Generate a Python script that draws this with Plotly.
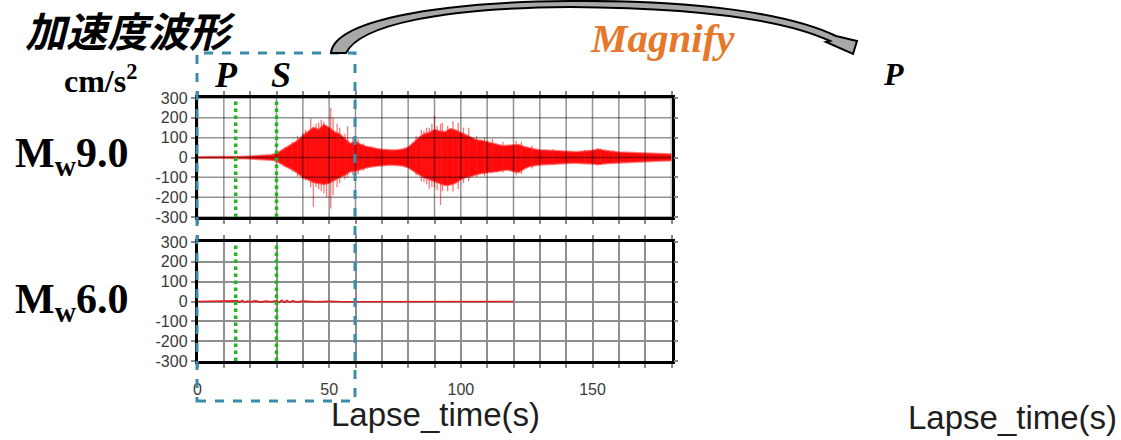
import plotly.graph_objects as go

W, H = 1121, 440

# ---------------- data ----------------
time_9 = list(range(0, 181, 2))
mw9_upper = [2, 2, 2, 2, 2, 2, 2, 3, 5, 5, 6, 7, 9, 11, 13, 20,
             38, 52, 68, 85, 110, 128, 150, 140, 165, 150, 128, 118, 95, 70,
             80, 65, 55, 48, 44, 40, 38, 36, 38, 42,
             50, 75, 98, 118, 125, 140, 132, 128, 145, 138,
             125, 110, 100, 88, 85, 78, 70, 65, 58, 60,
             62, 64, 54, 47, 42, 38, 36, 35, 33, 31,
             30, 29, 28, 30, 32, 35, 40, 36, 31, 29,
             27, 26, 24, 23, 22, 21, 20, 19, 19, 18,
             16]
mw9_lower = [-2, -2, -2, -2, -2, -2, -2, -3, -5, -5, -6, -7, -9, -10, -12, -18,
             -35, -48, -60, -78, -100, -112, -125, -130, -135, -128, -115, -100, -88, -70,
             -68, -60, -52, -46, -42, -40, -38, -36, -38, -42,
             -50, -68, -85, -100, -110, -120, -130, -140, -138, -128,
             -110, -100, -95, -85, -80, -75, -72, -70, -64, -62,
             -70, -74, -57, -45, -40, -36, -34, -33, -31, -30,
             -29, -28, -28, -29, -30, -32, -34, -32, -29, -27,
             -26, -24, -23, -22, -21, -20, -19, -18, -18, -17,
             -15]

spike_t = [33, 36, 38, 40, 41, 43, 44, 45, 46, 47,
           48, 49, 50.6, 51.5, 53, 54, 56, 57, 59, 61,
           63, 66, 83, 85, 86, 87, 88, 89, 90, 91,
           92.3, 93, 95, 97, 99, 101, 103, 106, 109, 112,
           116, 121, 123, 127, 135, 147, 152, 153, 158]
spike_hi = [50, 80, 110, 125, 140, 197, 150, 170, 175, 190,
            180, 160, 250, 200, 170, 150, 120, 157, 100, 95,
            70, 55, 110, 140, 135, 150, 150, 170, 210, 160,
            170, 175, 160, 183, 175, 150, 150, 110, 100, 95,
            80, 85, 80, 60, 42, 38, 48, 45, 35]
spike_lo = [-45, -70, -95, -110, -115, -150, -248, -150, -160, -170,
            -180, -200, -257, -190, -150, -130, -110, -100, -90, -85,
            -65, -50, -90, -120, -125, -135, -160, -150, -150, -165,
            -240, -170, -170, -173, -160, -130, -120, -100, -95, -80,
            -75, -90, -85, -55, -38, -33, -40, -38, -30]

mw6_t = [0, 14, 15, 16, 17, 18, 19, 20, 22, 24,
         26, 28, 30, 31, 32, 33, 34, 35, 36, 38,
         40, 45, 50, 55, 120]
mw6_v = [0, 0, 3, -3, 5, -4, 2, -2, 3, -3,
         2, -2, 4, -5, 6, -5, 5, -4, 3, -3,
         2, -2, 1, -1, 0]

p_arrival = 14.5
s_arrival = 30
x_ticks = list(range(0, 181, 10))
x_ticktext = [str(v) if v % 50 == 0 else "" for v in x_ticks]
y_ticks = [300, 200, 100, 0, -100, -200, -300]
y_ticktext = ["300", "200", "100", "0", "-100", "-200", "-300"]

# ---------------- helpers ----------------
def fx(x):
    return x / W

def fy(y):
    return 1 - y / H

def P(x, y):
    return f"{fx(x):.5f},{fy(y):.5f}"

SERIF = "Liberation Serif"
SANS = "Liberation Sans"

fig = go.Figure()

# Mw9.0 waveform (envelope + spikes)
fig.add_trace(go.Scatter(
    x=time_9 + time_9[::-1], y=mw9_upper + mw9_lower[::-1],
    fill="toself", fillcolor="#ff0a0a", mode="lines",
    line=dict(color="rgba(255,40,40,0.6)", width=2),
    xaxis="x", yaxis="y", hoverinfo="skip", showlegend=False))

sx, sy = [], []
for t, hi, lo in zip(spike_t, spike_hi, spike_lo):
    sx += [t, t, None]
    sy += [hi, lo, None]
fig.add_trace(go.Scatter(
    x=sx, y=sy, mode="lines",
    line=dict(color="rgba(255,30,30,0.6)", width=1.3),
    xaxis="x", yaxis="y", hoverinfo="skip", showlegend=False))

# Mw6.0 waveform
fig.add_trace(go.Scatter(
    x=mw6_t, y=mw6_v, mode="lines",
    line=dict(color="#e02020", width=1.6),
    xaxis="x2", yaxis="y2", hoverinfo="skip", showlegend=False))

x_dom = [fx(197.5), fx(671.5)]
top_dom = [fy(217), fy(98)]
bot_dom = [fy(361), fy(242)]

axis_common = dict(
    showline=True, linecolor="black", linewidth=2.5, mirror="ticks",
    ticks="outside", ticklen=4, tickwidth=1.5, tickcolor="#8a8a8a",
    zeroline=False, automargin=False,
)
tick_font = dict(family=SANS, size=16, color="#3a3a3a")
fig.update_layout(
    xaxis=dict(domain=x_dom, range=[0, 180], anchor="y",
               tickmode="array", tickvals=x_ticks, ticktext=x_ticktext,
               showticklabels=False, showgrid=False, **axis_common),
    yaxis=dict(domain=top_dom, range=[-300, 300], anchor="x",
               tickmode="array", tickvals=y_ticks, ticktext=y_ticktext,
               tickfont=tick_font, showgrid=False, **axis_common),
    xaxis2=dict(domain=x_dom, range=[0, 180], anchor="y2", matches="x",
                tickmode="array", tickvals=x_ticks, ticktext=x_ticktext,
                tickfont=tick_font, ticklabelstandoff=8,
                showgrid=True, gridcolor="#8f8f8f", gridwidth=1.5,
                **axis_common),
    yaxis2=dict(domain=bot_dom, range=[-300, 300], anchor="x2",
                tickmode="array", tickvals=y_ticks, ticktext=y_ticktext,
                tickfont=tick_font,
                showgrid=True, gridcolor="#8f8f8f", gridwidth=1.5,
                **axis_common),
)

shapes = []
# grid drawn over the top waveform
for v in x_ticks:
    shapes.append(dict(type="line", xref="x", yref="y", x0=v, x1=v,
                       y0=-300, y1=300, layer="above",
                       line=dict(color="rgba(0,0,0,0.42)", width=1.5)))
for v in y_ticks:
    shapes.append(dict(type="line", xref="x", yref="y", x0=0, x1=180,
                       y0=v, y1=v, layer="above",
                       line=dict(color="rgba(0,0,0,0.42)", width=1.5)))

# P / S arrival lines
for t in (p_arrival, s_arrival):
    for xr, yr in (("x", "y domain"), ("x2", "y2 domain")):
        shapes.append(dict(type="line", xref=xr, yref=yr, x0=t, x1=t,
                           y0=0, y1=1, layer="above",
                           line=dict(color="#22b422", width=3.5, dash="dot")))

# dashed magnify box
shapes.append(dict(type="rect", xref="paper", yref="paper",
                   x0=fx(197), x1=fx(355), y0=fy(401), y1=fy(53),
                   layer="above",
                   line=dict(color="#3a8daa", width=3, dash="dash")))

# curved arrow
arrow_path = (f"M {P(331,53)} C {P(334,22)} {P(430,2)} {P(570,1)} "
              f"C {P(700,0)} {P(790,14)} {P(836,36)} "
              f"L {P(857,41)} L {P(853,54)} L {P(826,42)} L {P(830,41)} "
              f"C {P(785,20)} {P(700,8)} {P(570,7)} "
              f"C {P(440,8)} {P(360,25)} {P(346,53)} Z")
shapes.append(dict(type="path", xref="paper", yref="paper", path=arrow_path,
                   fillcolor="#a8a8a8", layer="above",
                   line=dict(color="black", width=2)))

fig.update_layout(shapes=shapes)

def ann(text, x, y, size, family, color="black", xanchor="center"):
    return dict(text=text, x=fx(x), y=fy(y), xref="paper", yref="paper",
                xanchor=xanchor, yanchor="middle", showarrow=False,
                font=dict(family=family, size=size, color=color))

annotations = [
    ann("<b><i>加速度波形</i></b>", 130, 29, 41, "Noto Sans CJK JP"),
    ann("<b>cm/s<sup>2</sup></b>", 100, 79, 32, SERIF),
    ann("<b><i>P</i></b>", 226, 75, 36, SERIF),
    ann("<b><i>S</i></b>", 281, 75, 36, SERIF),
    ann("<b>M<sub>w</sub>9.0</b>", 13, 156, 42, SERIF, xanchor="left"),
    ann("<b>M<sub>w</sub>6.0</b>", 13, 302, 42, SERIF, xanchor="left"),
    ann("<b><i>Magnify</i></b>", 662, 38, 41, SERIF, color="#e5782a"),
    ann("<b><i>P</i></b>", 893, 74, 32, SERIF),
    ann("Lapse_time(s)", 435, 414, 33, SANS, color="#1e1e1e"),
    ann("Lapse_time(s)", 1013, 417, 33, SANS, color="#1e1e1e"),
]

fig.update_layout(
    annotations=annotations,
    width=W, height=H,
    margin=dict(l=0, r=0, t=0, b=0, pad=0, autoexpand=False),
    paper_bgcolor="white", plot_bgcolor="white",
    showlegend=False,
)

page_fix = (
    "document.documentElement.style.margin='0';"
    "document.documentElement.style.overflow='hidden';"
    "document.body.style.margin='0';"
    "document.body.style.overflow='hidden';"
    "var gd=document.getElementById('{plot_id}');"
    "gd.style.position='fixed';gd.style.left='0px';gd.style.top='0px';"
)
fig.write_html("out.html", config={"displayModeBar": False},
               post_script=page_fix)
